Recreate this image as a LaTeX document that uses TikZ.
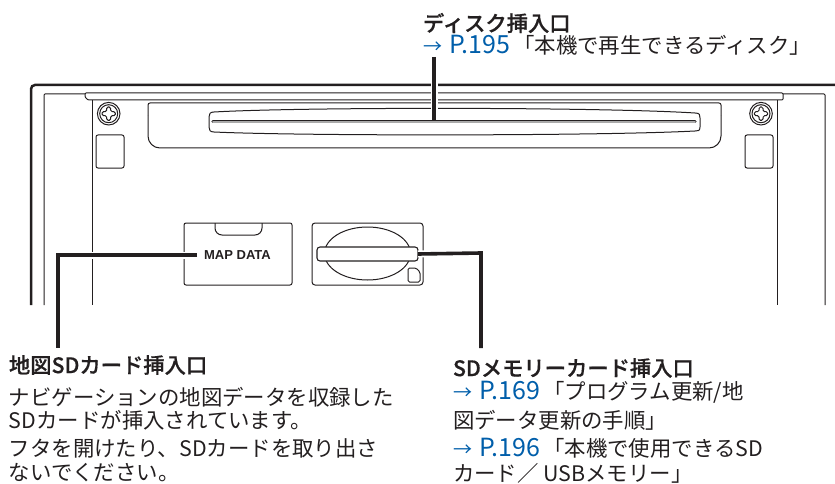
\documentclass[tikz,border=0pt]{standalone}
\usepackage{fontspec}
\setmainfont{Noto Sans CJK JP}
\newfontfamily\headfont[FakeBold=0.6]{Noto Sans CJK JP Medium}
\newfontfamily\mapfont{Liberation Sans}
\usetikzlibrary{positioning}
\definecolor{line_color}{RGB}{35,31,32}
\definecolor{link_color}{RGB}{0,94,170}
\definecolor{slot_color}{RGB}{170,170,170}
\newcommand{\seepage}[1]{\textcolor{link_color}{\fontsize{19}{25}\selectfont →\hspace{7pt}\fontsize{25}{25}\selectfont P.#1}\hspace{3pt}}
\begin{document}
\begin{tikzpicture}[x=1pt,y=-1pt]
    \tikzstyle{every node} = [inner sep=0pt, outer sep=0pt, text=line_color]
    \tikzstyle{part} = [draw=line_color, line width=1pt]
    \tikzstyle{leader} = [draw=line_color, line width=3.6pt, line join=miter]
    \tikzstyle{halo} = [draw=white, line width=7pt]
    \tikzstyle{head} = [anchor=west, font=\fontsize{21.3}{25}\selectfont\headfont]
    \tikzstyle{body} = [anchor=west, font=\fontsize{21.4}{25}\selectfont]
    \useasboundingbox (0,0) rectangle (835,484);
    % housing
    \draw[line_color, line width=2.5pt, rounded corners=4pt] (31,305) -- (31,85) -- (835,85);
    \draw[part, rounded corners=1pt] (44,305) -- (44,94) -- (85,94);
    \draw[part, rounded corners=1pt] (783,94) -- (825,94) -- (825,305);
    \draw[part, rounded corners=1pt] (85,93) -- (783,93) -- (783,100) -- (88,100) -- (85,97) -- cycle;
    \draw[part] (92,100) -- (92,305);
    \draw[part] (777,100) -- (777,305);
    % screws and squares
    \foreach \name/\xs in {left/108.7, right/761} {
        \draw[part] (\xs,113.7) circle (11.3);
        \draw[part] (\xs,113.7) circle (9);
        \draw[part, rounded corners=1.5pt] (\xs-2,107) -- (\xs+2,107) -- (\xs+2,111.7) -- (\xs+6.7,111.7) -- (\xs+6.7,115.7) -- (\xs+2,115.7) -- (\xs+2,120.4) -- (\xs-2,120.4) -- (\xs-2,115.7) -- (\xs-6.7,115.7) -- (\xs-6.7,111.7) -- (\xs-2,111.7) -- cycle;
    }
    \draw[part, rounded corners=2pt] (96,135) rectangle (124,168);
    \draw[part, rounded corners=2pt] (745,135) rectangle (773,168);
    % disc bay
    \draw[part, rounded corners=2pt] (148,116) -- (148,103) -- (721,103) -- (721,116);
    \draw[part, rounded corners=12pt] (148,116) -- (148,148) -- (721,148) -- (721,116);
    \draw[part] (214,112) .. controls (300,107) and (600,107) .. (695,113) .. controls (700,113) and (700,115) .. (700,118) -- (700,127) .. controls (700,131) and (698,131) .. (695,131) .. controls (600,136) and (300,136) .. (214,132) .. controls (210,132) and (209,130) .. (209,127) -- (209,117) .. controls (209,114) and (210,112) .. (214,112) -- cycle;
    \draw[line_color, line width=3.2pt, line cap=round] (213,121.7) -- (695,121.7);
    \draw[slot_color, line width=1.8pt, line cap=round] (213,121.7) -- (695,121.7);
    % map data card
    \draw[part, rounded corners=2pt] (184,223) rectangle (292,285);
    \draw[part, rounded corners=7pt] (215,223) -- (215,235) -- (262,235) -- (262,223);
    \node (map_text) at (237.5,255) {\fontsize{13}{13}\selectfont\mapfont\bfseries MAP DATA};
    % sd slot
    \node[draw=line_color, line width=1pt, rounded corners=3pt, minimum width=111pt, minimum height=62pt] (sd_box) at (367.5,254) {};
    \draw[part] (367.5,253.5) ellipse (43 and 26.5);
    \node[draw=line_color, fill=white, line width=1.1pt, rounded corners=3pt, minimum width=101pt, minimum height=14pt] (sd_slot) at (367.5,254) {};
    \draw[part, fill=white, rounded corners=1.5pt] (408,268) -- (416,268) -- (420,272) -- (420,282) -- (408,282) -- cycle;
    % labels
    \node[head] (disc_head) at (423,23) {ディスク挿入口};
    \node[body] (disc_link) at (423,45) {\seepage{195}「本機で再生できるディスク」};
    \node[head] (map_head) at (9,365) {地図SDカード挿入口};
    \node[body] (map_a) at (9,397) {ナビゲーションの地図データを収録した};
    \node[body] (map_b) at (9,420) {SDカードが挿入されています。};
    \node[body] (map_c) at (9,448) {フタを開けたり、SDカードを取り出さ};
    \node[body] (map_d) at (9,473) {ないでください。};
    \node[head] (sd_head) at (453,368) {SDメモリーカード挿入口};
    \node[body] (sd_a) at (453,392) {\seepage{169}「プログラム更新/地};
    \node[body] (sd_b) at (453,420) {図データ更新の手順」};
    \node[body] (sd_c) at (453,448) {\seepage{196}「本機で使用できるSD};
    \node[body] (sd_d) at (453,473.5) {カード／ USBメモリー」};
    % leaders
    \coordinate (disc_top) at (434,57);
    \coordinate (disc_end) at (434,120);
    \coordinate (map_bend) at (58,255);
    \coordinate (map_start) at (197,255);
    \coordinate (map_end) at (58,348);
    \coordinate (sd_bend) at (481,253);
    \coordinate (sd_end) at (481,348);
    \draw[halo] (disc_top) -- (disc_end);
    \draw[leader] (disc_top) -- (disc_end);
    \draw[halo] (map_start) -- (map_bend);
    \draw[leader] (map_start) -- (map_bend) -- (map_end);
    \draw[halo] (sd_slot.east) -- (sd_bend);
    \draw[leader] (sd_slot.east) -- (sd_bend) -- (sd_end);
\end{tikzpicture}
\end{document}
